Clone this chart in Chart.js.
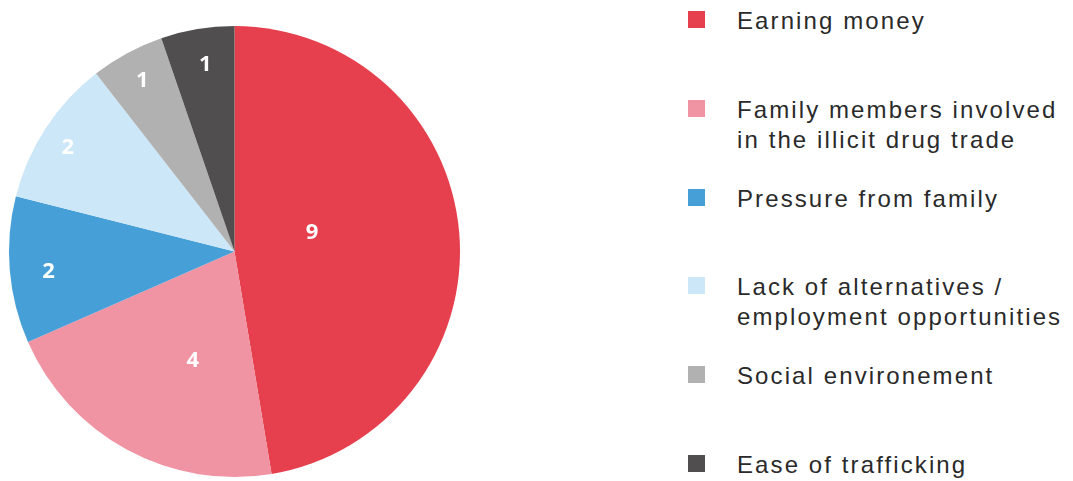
<!DOCTYPE html>
<html>
<head>
<meta charset="utf-8">
<script src="https://cdn.jsdelivr.net/npm/chart.js@4"></script>
<style>
  body { margin: 0; background: #fff; width: 1073px; height: 481px; overflow: hidden; position: relative; }
  #pieBox { position: absolute; left: 0; top: 0; width: 470px; height: 481px; }
  #legend { position: absolute; left: 688px; top: 0; margin: 0; padding: 0; list-style: none;
            font-family: "Liberation Sans", Arial, sans-serif; font-size: 24px; color: #2a2a2a; letter-spacing: 2.1px; }
  #legend li { position: absolute; left: 0; white-space: nowrap; line-height: 30px; }
  #legend .box { position: absolute; left: 0; top: 6px; width: 17px; height: 17px; }
  #legend .txt { position: absolute; left: 49px; top: 1px; }
</style>
</head>
<body>
<div id="pieBox"><canvas id="reasonPie"></canvas></div>
<ul id="legend"></ul>
<script>
const categories = [
    'Earning money',
    'Family members involved\nin the illicit drug trade',
    'Pressure from family',
    'Lack of alternatives /\nemployment opportunities',
    'Social environement',
    'Ease of trafficking'
];
const counts = [9, 4, 2, 2, 1, 1];
const sliceColors = ['#e63f4d', '#f093a3', '#479fd8', '#cce7f8', '#b1b1b1', '#504e4f'];
// where each value label sits: share of radius, and a small turn (degrees) off the slice middle
const labelReach = [0.353, 0.52, 0.83, 0.87, 0.86, 0.84];
const labelTurn = [-8.7, -7.6, -1.6, -1.3, 0, 0.6];

const sliceLabels = {
    id: 'sliceLabels',
    afterDatasetsDraw(chart) {
        const ctx = chart.ctx;
        const meta = chart.getDatasetMeta(0);
        ctx.save();
        ctx.fillStyle = '#fff';
        ctx.font = 'bold 22px "Open Sans", sans-serif';
        ctx.textAlign = 'center';
        ctx.textBaseline = 'middle';
        meta.data.forEach((arc, i) => {
            const p = arc.getProps(['x', 'y', 'startAngle', 'endAngle', 'outerRadius'], true);
            const mid = (p.startAngle + p.endAngle) / 2 + labelTurn[i] * Math.PI / 180;
            const r = p.outerRadius * labelReach[i];
            ctx.fillText(String(counts[i]), p.x + Math.cos(mid) * r, p.y + Math.sin(mid) * r);
        });
        ctx.restore();
    }
};

const ctx = document.getElementById('reasonPie').getContext('2d');
new Chart(ctx, {
    type: 'pie',
    data: {
        labels: categories,
        datasets: [{
            data: counts,
            backgroundColor: sliceColors,
            borderWidth: 0
        }]
    },
    options: {
        responsive: true,
        maintainAspectRatio: false,
        animation: false,
        layout: { padding: { top: 26, bottom: 4, left: 9, right: 10 } },
        plugins: {
            legend: { display: false },
            tooltip: { enabled: false }
        }
    },
    plugins: [sliceLabels]
});

// legend built from the same arrays
const legend = document.getElementById('legend');
categories.forEach((name, i) => {
    const li = document.createElement('li');
    li.style.top = (5 + i * 88.8) + 'px';
    li.innerHTML = '<span class="box" style="background:' + sliceColors[i] + '"></span>' +
        '<span class="txt">' + name.replace('\n', '<br>') + '</span>';
    legend.appendChild(li);
});
</script>
</body>
</html>
